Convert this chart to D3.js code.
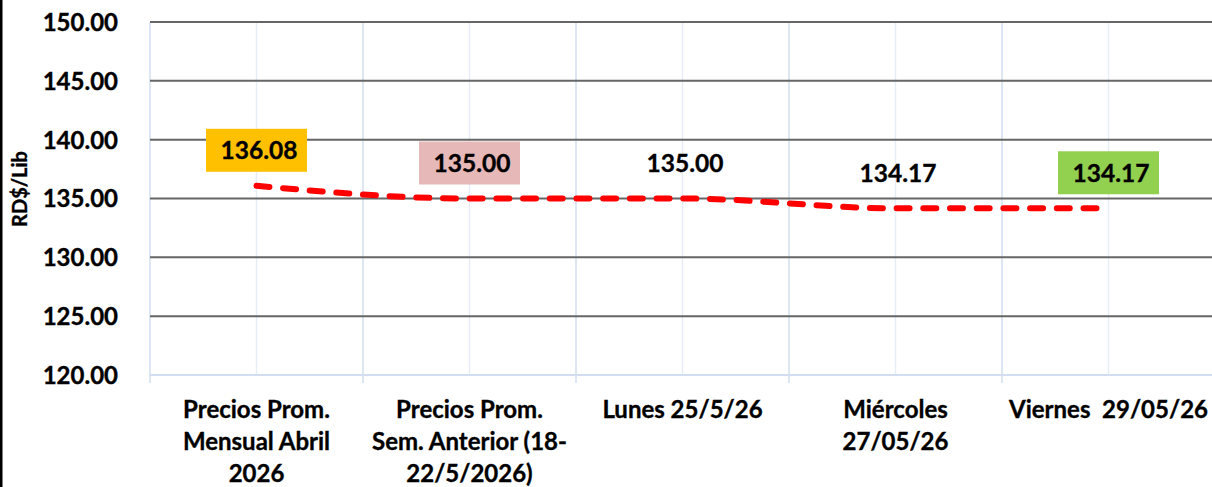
<!DOCTYPE html>
<html>
<head>
<meta charset="utf-8">
<script src="https://cdn.jsdelivr.net/npm/d3@7/dist/d3.min.js"></script>
<style>
  html, body { margin: 0; padding: 0; background: #fff; }
  svg { display: block; }
  text { font-family: Lato, "Open Sans", sans-serif; font-weight: bold; fill: #000; stroke: #000; stroke-width: 0.35px; }
</style>
</head>
<body>
<div id="chart"></div>
<script>
// ---- Data ----
const categories = [
  ["Precios Prom.", "Mensual Abril", "2026"],
  ["Precios Prom.", "Sem. Anterior (18-", "22/5/2026)"],
  ["Lunes 25/5/26"],
  ["Miércoles", "27/05/26"],
  ["Viernes  29/05/26"]
];
const values = [136.08, 135.00, 135.00, 134.17, 134.17];
const yTicks = [120, 125, 130, 135, 140, 145, 150];
const yTitle = "RD$/Lib";

// ---- Style ----
const labelBoxColors = ["#FFC000", "#E6B8B7", null, null, "#92D050"];

const W = 1212, H = 487;
const plot = { left: 150, right: 1215, top: 22, bottom: 375 };

const svg = d3.select("#chart").append("svg").attr("width", W).attr("height", H);

const x = d3.scaleBand().domain(d3.range(categories.length)).range([plot.left, plot.right]).padding(0);
const y = d3.scaleLinear().domain([120, 150]).range([plot.bottom, plot.top]);
const cx = i => x(i) + x.bandwidth() / 2;

// left black border
svg.append("rect").attr("x", 0).attr("y", 0).attr("width", 2.5).attr("height", H).attr("fill", "#000");

// vertical gridlines: category centers (light) and boundaries (slightly darker)
const g = svg.append("g");
g.selectAll("line.vc").data(d3.range(categories.length)).join("line")
  .attr("x1", d => cx(d)).attr("x2", d => cx(d))
  .attr("y1", plot.top).attr("y2", plot.bottom)
  .attr("stroke", "#e6edf7").attr("stroke-width", 1.5);
g.selectAll("line.vb").data(d3.range(categories.length + 1)).join("line")
  .attr("x1", d => d < categories.length ? x(d) : plot.right)
  .attr("x2", d => d < categories.length ? x(d) : plot.right)
  .attr("y1", plot.top).attr("y2", plot.bottom + 8)
  .attr("stroke", "#d2deef").attr("stroke-width", 1.5);

// horizontal gridlines (except the bottom axis)
g.selectAll("line.h").data(yTicks.filter(t => t !== 120)).join("line")
  .attr("x1", plot.left).attr("x2", plot.right)
  .attr("y1", d => y(d)).attr("y2", d => y(d))
  .attr("stroke", "#666666").attr("stroke-width", 2);

// bottom axis line
svg.append("line")
  .attr("x1", plot.left).attr("x2", plot.right)
  .attr("y1", y(120)).attr("y2", y(120))
  .attr("stroke", "#d2deef").attr("stroke-width", 2);

// y axis labels
const yAxis = d3.axisLeft(y).tickValues(yTicks).tickFormat(d3.format(".2f")).tickSize(0).tickPadding(0);
const ya = svg.append("g").attr("transform", `translate(118,0)`).call(yAxis);
ya.select(".domain").remove();
ya.selectAll("text")
  .style("font-family", "Lato, sans-serif").style("font-weight", "bold")
  .style("font-size", "24px").attr("fill", "#000").attr("dy", "0.35em");

// y title
svg.append("text")
  .attr("transform", `translate(27,189) rotate(-90)`)
  .attr("text-anchor", "middle")
  .style("font-size", "20px")
  .text(yTitle);

// x category labels
categories.forEach((lines, i) => {
  const t = svg.append("text")
    .attr("text-anchor", "middle")
    .attr("xml:space", "preserve")
    .style("white-space", "pre")
    .style("font-size", "24px");
  lines.forEach((ln, j) => {
    t.append("tspan").attr("x", cx(i)).attr("y", 418 + j * 32).text(ln);
  });
});

// line
const line = d3.line().x((d, i) => cx(i)).y(d => y(d)).curve(d3.curveMonotoneX);
svg.append("path").datum(values)
  .attr("d", line)
  .attr("fill", "none")
  .attr("stroke", "#FF0000")
  .attr("stroke-width", 6)
  .attr("stroke-linecap", "round")
  .attr("stroke-dasharray", "13,13.7");

// data labels
values.forEach((v, i) => {
  const lx = cx(i), ly = y(v) - 35.5;
  if (labelBoxColors[i]) {
    svg.append("rect")
      .attr("x", lx - 50.5).attr("y", ly - 21.5)
      .attr("width", 101).attr("height", 43)
      .attr("fill", labelBoxColors[i]);
  }
  svg.append("text")
    .attr("x", lx + 2.5).attr("y", ly)
    .attr("dy", "0.36em")
    .attr("text-anchor", "middle")
    .style("font-size", "24.5px")
    .text(d3.format(".2f")(v));
});
</script>
</body>
</html>
